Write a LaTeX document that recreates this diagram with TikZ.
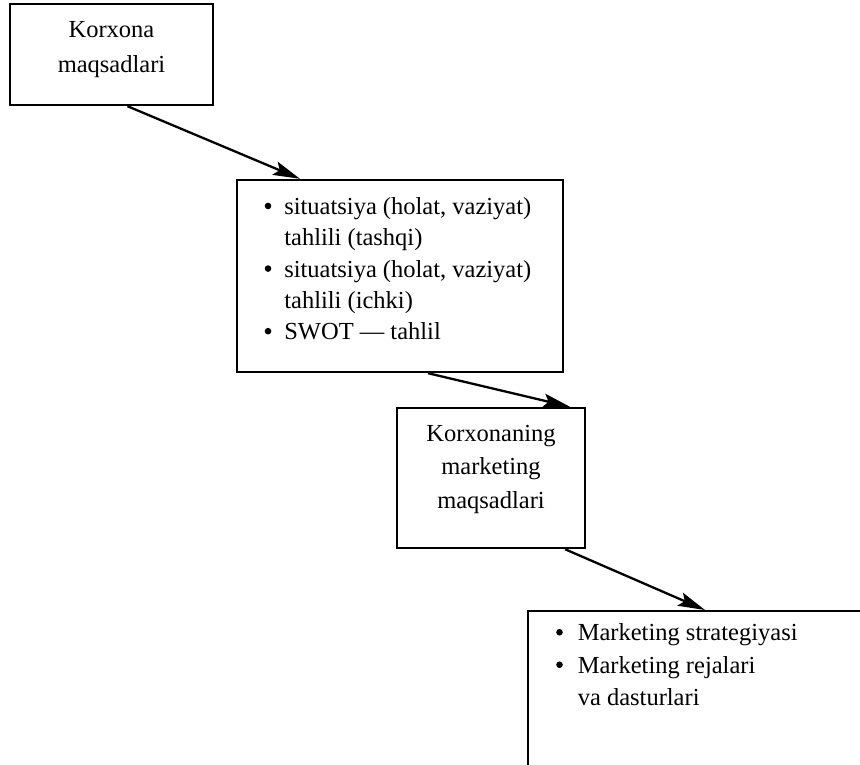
\documentclass[tikz,border=0pt]{standalone}
\usepackage{fontspec}
\setmainfont{Liberation Serif}
\usetikzlibrary{arrows.meta}
\newcommand{\bigbul}{\raisebox{0.22em}{\tikz\fill (0,0) circle (3.3pt);}}
\begin{document}
\begin{tikzpicture}[x=1pt,y=-1pt,
  box/.style={draw, line width=2.4pt, inner sep=0pt},
  txt/.style={inner sep=0pt, font=\fontsize{24.5}{32}\selectfont},
  conn/.style={line width=2.3pt, -{Stealth[length=27pt,width=14pt,inset=5pt]}}]
\useasboundingbox (0,0) rectangle (860,765);
\clip (0,0) rectangle (860,765);
% boxes
\node[box, minimum width=203pt, minimum height=101pt] (b1) at (111.5,54.5) {};
\node[box, minimum width=326pt, minimum height=192pt] (b2) at (400,276) {};
\node[box, minimum width=188pt, minimum height=140pt] (b3) at (491,478) {};
\node[box, anchor=north west, minimum width=360pt, minimum height=200pt] (b4) at (527,610) {};
% texts
\node[txt, align=center, font=\fontsize{24.5}{35}\selectfont] (t1) at (111.5,50) {Korxona\\maqsadlari};
\node[txt, font=\fontsize{24.5}{31.3}\selectfont] (t2) at (398,271)
  {\begin{tabular}{@{}l@{\hspace{13pt}}l@{}}
   \bigbul & situatsiya (holat, vaziyat)\\
           & tahlili (tashqi)\\
   \bigbul & situatsiya (holat, vaziyat)\\
           & tahlili (ichki)\\
   \bigbul & SWOT --- tahlil
   \end{tabular}};
\node[txt, align=center, font=\fontsize{24.5}{33.5}\selectfont] (t3) at (491,469) {Korxonaning\\marketing\\maqsadlari};
\node[txt, anchor=north west, font=\fontsize{24.5}{32.5}\selectfont] (t4) at (556,618)
  {\begin{tabular}{@{}l@{\hspace{15pt}}l@{}}
   \bigbul & Marketing strategiyasi\\
   \bigbul & Marketing rejalari\\
           & va dasturlari
   \end{tabular}};
% connectors
\draw[conn] ([xshift=16pt]b1.south) -- ([xshift=-100pt]b2.north);
\draw[conn] ([xshift=28pt]b2.south) -- ([xshift=79pt]b3.north);
\draw[conn] ([xshift=74pt]b3.south) -- ([xshift=178pt]b4.north west);
\end{tikzpicture}
\end{document}
